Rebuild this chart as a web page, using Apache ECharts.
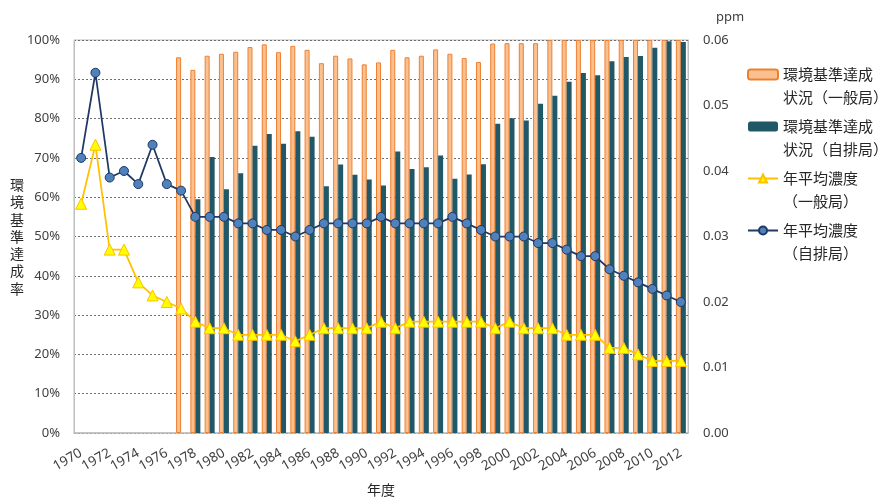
<!DOCTYPE html>
<html>
<head>
<meta charset="utf-8">
<script src="https://cdn.jsdelivr.net/npm/echarts@6/dist/echarts.min.js"></script>
<style>
html,body{margin:0;padding:0;background:#fff;}
#chart{width:885px;height:502px;}
</style>
</head>
<body>
<div id="chart"></div>
<script>
const years = ['1970','1971','1972','1973','1974','1975','1976','1977','1978','1979',
  '1980','1981','1982','1983','1984','1985','1986','1987','1988','1989',
  '1990','1991','1992','1993','1994','1995','1996','1997','1998','1999',
  '2000','2001','2002','2003','2004','2005','2006','2007','2008','2009',
  '2010','2011','2012'];

// 環境基準達成状況（一般局） %
const rateGeneral = [null,null,null,null,null,null,null,95.6,92.4,96.0,
  96.5,97.0,98.2,98.9,96.9,98.5,97.5,94.1,96.0,95.3,
  93.8,94.3,97.5,95.6,96.0,97.6,96.5,95.4,94.4,99.1,
  99.2,99.2,99.2,100,100,100,100,100,100,100,
  100,100,100];

// 環境基準達成状況（自排局） %
const rateRoadside = [null,null,null,null,null,null,null,null,59.5,70.2,
  62.0,66.1,73.1,76.1,73.6,76.8,75.4,62.8,68.3,65.7,
  64.5,63.0,71.6,67.2,67.6,70.6,64.7,65.8,68.4,78.7,
  80.1,79.5,83.8,85.8,89.4,91.6,91.0,94.6,95.7,95.9,
  98.0,99.7,99.5];

// 年平均濃度（一般局） ppm
const concGeneral = [0.035,0.044,0.028,0.028,0.023,0.021,0.020,0.019,0.017,0.016,
  0.016,0.015,0.015,0.015,0.015,0.014,0.015,0.016,0.016,0.016,
  0.016,0.017,0.016,0.017,0.017,0.017,0.017,0.017,0.017,0.016,
  0.017,0.016,0.016,0.016,0.015,0.015,0.015,0.013,0.013,0.012,
  0.011,0.011,0.011];

// 年平均濃度（自排局） ppm
const concRoadside = [0.042,0.055,0.039,0.040,0.038,0.044,0.038,0.037,0.033,0.033,
  0.033,0.032,0.032,0.031,0.031,0.030,0.031,0.032,0.032,0.032,
  0.032,0.033,0.032,0.032,0.032,0.032,0.033,0.032,0.031,0.030,
  0.030,0.030,0.029,0.029,0.028,0.027,0.027,0.025,0.024,0.023,
  0.022,0.021,0.020];

const names = ['環境基準達成\n状況（一般局）','環境基準達成\n状況（自排局）','年平均濃度\n（一般局）','年平均濃度\n（自排局）'];

const numFont = '"Noto Sans", "Noto Sans CJK JP", sans-serif';
const jpFont = '"Noto Sans CJK JP", sans-serif';
const txt = '#404040';

const chart = echarts.init(document.getElementById('chart'), null, {renderer:'canvas'});
chart.setOption({
  animation: false,
  backgroundColor: '#ffffff',
  grid: {left: 74, right: 197, top: 40, bottom: 67, show: true, borderColor: '#BFBFBF', borderWidth: 1},
  legend: {
    orient: 'vertical',
    left: 747,
    top: 40,
    padding: 0,
    itemGap: -17,
    itemWidth: 30,
    itemHeight: 10,
    data: names,
    formatter: n => ' \n' + n,
    textStyle: {fontFamily: jpFont, fontSize: 15, color: '#262626', lineHeight: 23}
  },
  graphic: [{
    type: 'text', left: 10, top: 176,
    style: {text: '環\n境\n基\n準\n達\n成\n率', font: '14px "Noto Sans CJK JP"', fill: '#262626', lineHeight: 17.3}
  }],
  xAxis: {
    type: 'category',
    data: years,
    name: '年度',
    nameLocation: 'middle',
    nameGap: 50,
    nameTextStyle: {fontFamily: jpFont, fontSize: 14, color: '#262626'},
    axisLine: {lineStyle: {color: '#BFBFBF', width: 1.5}},
    axisTick: {show: false},
    axisLabel: {interval: 1, rotate: 30, margin: 19, fontFamily: numFont, fontSize: 13.5, color: txt}
  },
  yAxis: [{
    type: 'value', min: 0, max: 100, interval: 10,
    axisLine: {show: true, lineStyle: {color: '#BFBFBF'}},
    axisTick: {show: false},
    axisLabel: {margin: 14, formatter: '{value}%', fontFamily: numFont, fontSize: 13, color: txt},
    splitLine: {lineStyle: {color: '#6f6f6f', type: [2, 2], width: 1}}
  }, {
    type: 'value', min: 0, max: 0.06, interval: 0.01,
    name: 'ppm',
    nameLocation: 'end',
    nameGap: 16,
    nameTextStyle: {fontFamily: numFont, fontSize: 13, color: txt, align: 'left', padding: [0,0,0,28]},
    axisLine: {show: true, lineStyle: {color: '#BFBFBF'}},
    axisTick: {show: false},
    axisLabel: {margin: 15, formatter: v => v.toFixed(2), fontFamily: numFont, fontSize: 13, color: txt},
    splitLine: {show: false}
  }],
  series: [{
    name: names[0], type: 'bar', yAxisIndex: 0, data: rateGeneral,
    barWidth: 5, barGap: '0%',
    itemStyle: {color: '#FAC090', borderColor: '#EE8030', borderWidth: 1}
  }, {
    name: names[1], type: 'bar', yAxisIndex: 0, data: rateRoadside,
    barWidth: 5, barGap: '0%',
    itemStyle: {color: '#215868'}
  }, {
    name: names[2], type: 'line', yAxisIndex: 1, data: concGeneral,
    symbol: 'triangle', symbolSize: 11, showAllSymbol: true,
    lineStyle: {color: '#FFC000', width: 1.75},
    itemStyle: {color: '#FFFF00', borderColor: '#FFC000', borderWidth: 1}
  }, {
    name: names[3], type: 'line', yAxisIndex: 1, data: concRoadside,
    symbol: 'circle', symbolSize: 9, showAllSymbol: true,
    lineStyle: {color: '#1F3864', width: 1.75},
    itemStyle: {color: '#4F81BD', borderColor: '#1F3864', borderWidth: 1}
  }]
});
</script>
</body>
</html>
